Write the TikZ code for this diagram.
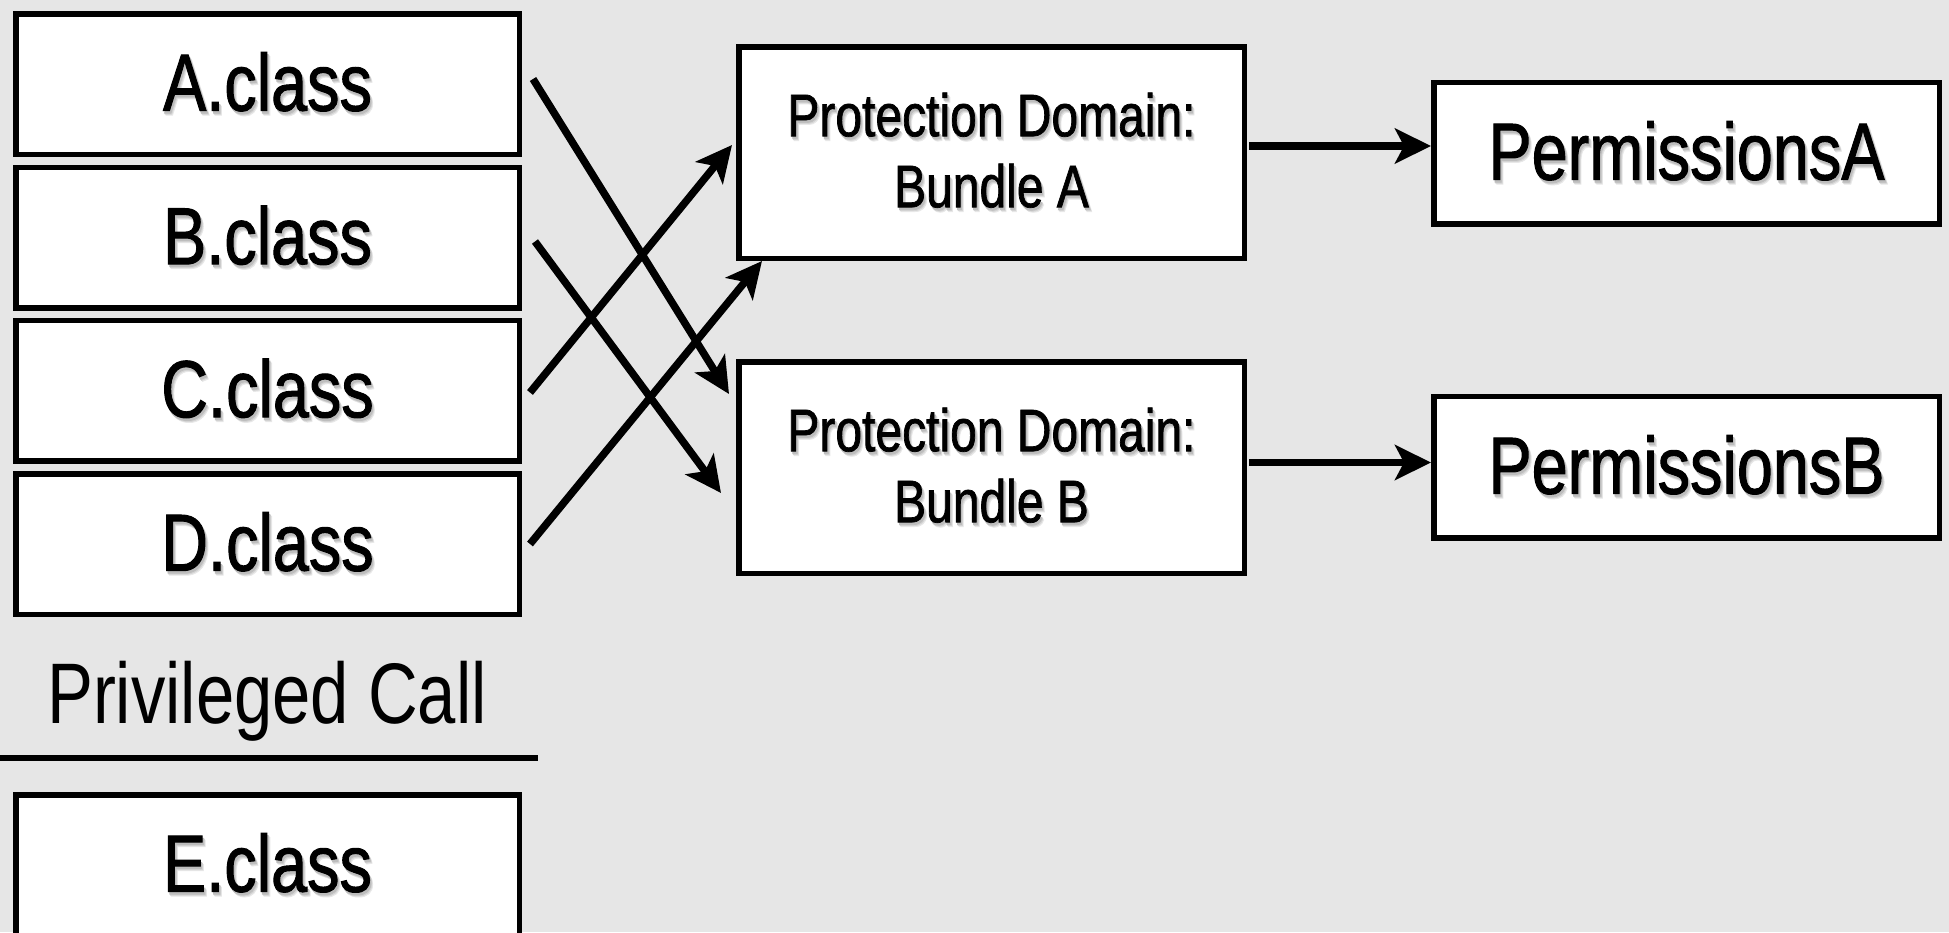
\documentclass[tikz,border=0pt]{standalone}
\usepackage{fontspec}
\setmainfont{Liberation Sans}[FakeStretch=0.8]
\newfontfamily\boxfont{Liberation Sans}[FakeStretch=0.8,FakeBold=1.2]
\usetikzlibrary{arrows.meta}
\definecolor{canvas}{HTML}{E6E6E6}

% text with a soft grey drop shadow below and to the right
\newcommand\dropshadowtext[1]{%
  \leavevmode
  \rlap{\kern3pt\raisebox{-4.5pt}{\color{black!9}#1}}%
  \rlap{\kern2.2pt\raisebox{-3.5pt}{\color{black!17}#1}}%
  \rlap{\kern1.4pt\raisebox{-2.5pt}{\color{black!26}#1}}%
  #1}

\begin{document}
\begin{tikzpicture}[x=1pt,y=-1pt,
  box/.style={draw=black, line width=5.5pt, fill=white, inner sep=0pt, rectangle},
  classbox/.style={box, minimum width=503.5pt, minimum height=140.5pt,
    font=\boxfont\fontsize{81}{97}\selectfont},
  domainbox/.style={box, minimum width=505.5pt, minimum height=211.5pt,
    align=center, font=\boxfont\fontsize{60}{71}\selectfont},
  permbox/.style={box, minimum width=505.5pt, minimum height=141.5pt,
    font=\boxfont\fontsize{81}{97}\selectfont},
  arr/.style={line width=7.5pt, -{Stealth[length=36pt,width=35pt,inset=9pt]}},
]
\useasboundingbox (0,0) rectangle (1949,932);
\clip (0,0) rectangle (1949,932);
\fill[canvas] (0,0) rectangle (1949,932);

% class files
\node[classbox] (A) at (267.5,84)  {\dropshadowtext{A.class}};
\node[classbox] (B) at (267.5,237.5) {\dropshadowtext{B.class}};
\node[classbox] (C) at (267.5,390.5) {\dropshadowtext{C.class}};
\node[classbox] (D) at (267.5,544) {\dropshadowtext{D.class}};

% privileged call boundary
\node[font=\fontsize{86}{100}\selectfont, anchor=base, inner sep=0pt] (priv) at (267,723) {Privileged Call};
\draw[line width=6pt] (0,758) -- (538,758);
\node[classbox] (E) at (267.5,865) {\dropshadowtext{E.class}};

% protection domains
\node[domainbox] (PDA) at (991.5,152.5) {\dropshadowtext{Protection Domain:}\\\dropshadowtext{Bundle A}};
\node[domainbox] (PDB) at (991.5,467.5) {\dropshadowtext{Protection Domain:}\\\dropshadowtext{Bundle B}};

% permissions
\node[permbox] (PermA) at (1686.5,153) {\dropshadowtext{PermissionsA}};
\node[permbox] (PermB) at (1686.5,467) {\dropshadowtext{PermissionsB}};

% class to domain mapping
\draw[arr] ([shift={(11,-5)}]A.east) -- ([shift={(-7,-73.5)}]PDB.west);
\draw[arr] ([shift={(13,4)}]B.east) -- ([shift={(-15,25.5)}]PDB.west);
\draw[arr] ([shift={(8,2)}]C.east) -- ([shift={(-4,-7.5)}]PDA.west);
\draw[arr] ([shift={(8,0)}]D.east) -- ([shift={(26,0)}]PDA.south west);

% domain to permissions
\draw[arr] ([shift={(2,-6.5)}]PDA.east) -- ([shift={(0,-7)}]PermA.west);
\draw[arr] ([shift={(2,-5)}]PDB.east) -- ([shift={(0,-4.5)}]PermB.west);
\end{tikzpicture}
\end{document}
